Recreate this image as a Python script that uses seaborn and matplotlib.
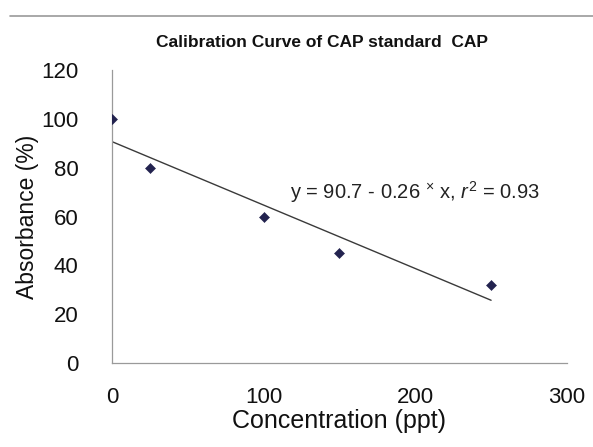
import matplotlib
matplotlib.use("Agg")
import matplotlib.pyplot as plt
import seaborn as sns
import numpy as np
import pandas as pd
from matplotlib.lines import Line2D

# Data
concentration = [0, 25, 100, 150, 250]
absorbance = [100, 80, 60, 45, 32]
fit_intercept = 90.7
fit_slope = -0.26
x_ticks = [0, 100, 200, 300]
y_ticks = [0, 20, 40, 60, 80, 100, 120]

sns.set_theme(style="white")
plt.rcParams["font.family"] = ["Liberation Sans", "DejaVu Sans"]
plt.rcParams["mathtext.fontset"] = "custom"
plt.rcParams["mathtext.rm"] = "Liberation Sans"
plt.rcParams["mathtext.it"] = "Liberation Sans:italic"

df = pd.DataFrame({"conc": concentration, "abs": absorbance})
fit_x = np.array([min(concentration), max(concentration)])
fit_df = pd.DataFrame({"conc": fit_x, "abs": fit_intercept + fit_slope * fit_x})

fig = plt.figure(figsize=(5.93, 4.47), dpi=100)
ax = fig.add_axes([0.189, 0.188, 0.767, 0.655])

sns.lineplot(data=fit_df, x="conc", y="abs", ax=ax, color="#3a3a3a", linewidth=1.0)
sns.scatterplot(data=df, x="conc", y="abs", ax=ax, marker="D", s=26,
                color="#23234f", edgecolor="#23234f", zorder=3)

ax.set_xlim(0, 300)
ax.set_ylim(0, 120)
ax.set_xticks(x_ticks)
ax.set_yticks(y_ticks)
ax.tick_params(axis="y", length=0, labelsize=16, colors="#111111", pad=24)
ax.tick_params(axis="x", length=0, labelsize=16, colors="#111111", pad=17)
ax.set_xlabel("Concentration (ppt)", fontsize=18, color="#111111", labelpad=1)
ax.set_ylabel("Absorbance (%)", fontsize=16.5, color="#111111", labelpad=2)

for side in ["top", "right"]:
    ax.spines[side].set_visible(False)
for side in ["left", "bottom"]:
    ax.spines[side].set_color("#9a9a9a")
    ax.spines[side].set_linewidth(0.9)

ax.text(117.5, 70, r"y = 90.7 - 0.26 $^{\times}$ x, $r^2$ = 0.93", fontsize=14.5,
        color="#222222", va="center", ha="left")

fig.text(0.543, 0.906, "Calibration Curve of CAP standard  CAP", fontsize=12.5,
         fontweight="bold", ha="center", va="center", color="#111111")

# thin rule across the top of the picture
fig.add_artist(Line2D([0.017, 1.0], [0.964, 0.964], color="#9a9a9a",
                      linewidth=1.2, transform=fig.transFigure))

fig.savefig("out.png", dpi=100, facecolor="white")
